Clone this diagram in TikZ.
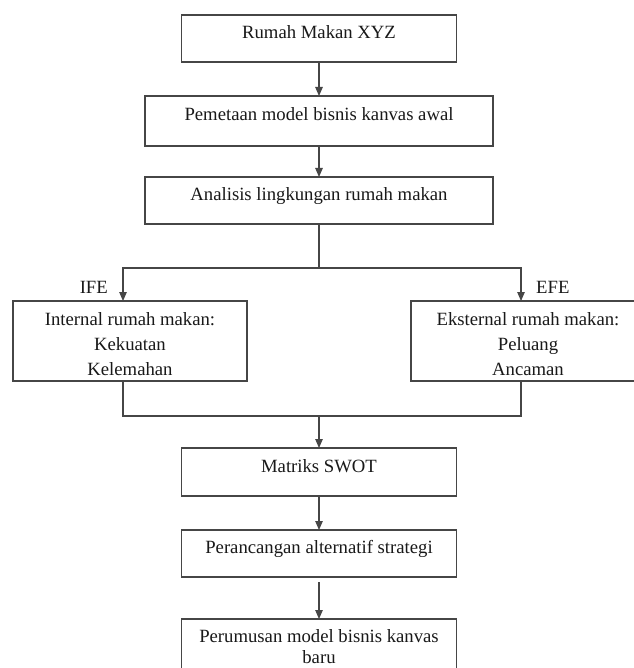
\documentclass[tikz,border=0pt]{standalone}
\usepackage{fontspec}
\setmainfont{Liberation Serif}
\usepackage{tikz}
\definecolor{linegray}{RGB}{70, 70, 70}
\definecolor{textgray}{RGB}{25, 25, 25}
\usetikzlibrary{arrows.meta, positioning}

\begin{document}
\begin{tikzpicture}[
    x=1pt, y=-1pt,
    box/.style={rectangle, draw=linegray, line width=1.1pt, text=textgray,
                outer sep=0pt, align=center, font=\fontsize{18.7}{25}\selectfont},
    stepbox/.style={box, minimum width=275pt, minimum height=47pt,
                    text height=8pt, text depth=8pt},
    widebox/.style={stepbox, minimum width=348pt},
    sidebox/.style={box, minimum width=234pt, minimum height=80pt, inner ysep=2pt},
    lastbox/.style={box, minimum width=275pt, minimum height=56pt,
                    font=\fontsize{18.7}{21}\selectfont},
    lbl/.style={text=textgray, inner sep=0pt, font=\fontsize{18.7}{25}\selectfont},
    conn/.style={draw=linegray, line width=1.1pt},
    arr/.style={conn, -{Triangle[length=9pt, width=7.5pt]}}
]
    \useasboundingbox[fill=white] (0,0) rectangle (633,668);

    \node[stepbox] (rumah) at (319,38.5) {Rumah Makan XYZ};
    \node[widebox, minimum height=50pt, below=34pt of rumah] (pemetaan) {Pemetaan model bisnis kanvas awal};
    \node[widebox, below=31pt of pemetaan] (analisis) {Analisis lingkungan rumah makan};

    \node[sidebox] (internal) at (130,341) {\rule{0pt}{20pt}Internal rumah makan:\\Kekuatan\\Kelemahan};
    \node[sidebox] (eksternal) at (528,341) {\rule{0pt}{20pt}Eksternal rumah makan:\\Peluang\\Ancaman};
    \node[lbl, anchor=base east] (ife) at (108,293) {IFE};
    \node[lbl, anchor=base west] (efe) at (536,293) {EFE};

    \node[stepbox, minimum height=48pt] (matriks) at (319,472) {Matriks SWOT};
    \node[stepbox, below=34pt of matriks] (perancangan) {Perancangan alternatif strategi};
    \node[lastbox, below=42pt of perancangan] (perumusan) {Perumusan model bisnis kanvas\\baru};

    \coordinate (split) at (319,268);
    \coordinate (join) at (319,416);

    \draw[arr] (rumah) -- (pemetaan);
    \draw[arr] (pemetaan) -- (analisis);
    \draw[conn] (analisis) -- (split);
    \draw[arr] (split) -| ([xshift=-7pt]internal.north);
    \draw[arr] (split) -| ([xshift=-7pt]eksternal.north);
    \draw[conn] ([xshift=-7pt]internal.south) |- (join);
    \draw[conn] ([xshift=-7pt]eksternal.south) |- (join);
    \draw[arr] (join) -- (matriks);
    \draw[arr] (matriks) -- (perancangan);
    \draw[arr, shorten <=5pt] (perancangan) -- (perumusan);
\end{tikzpicture}
\end{document}
